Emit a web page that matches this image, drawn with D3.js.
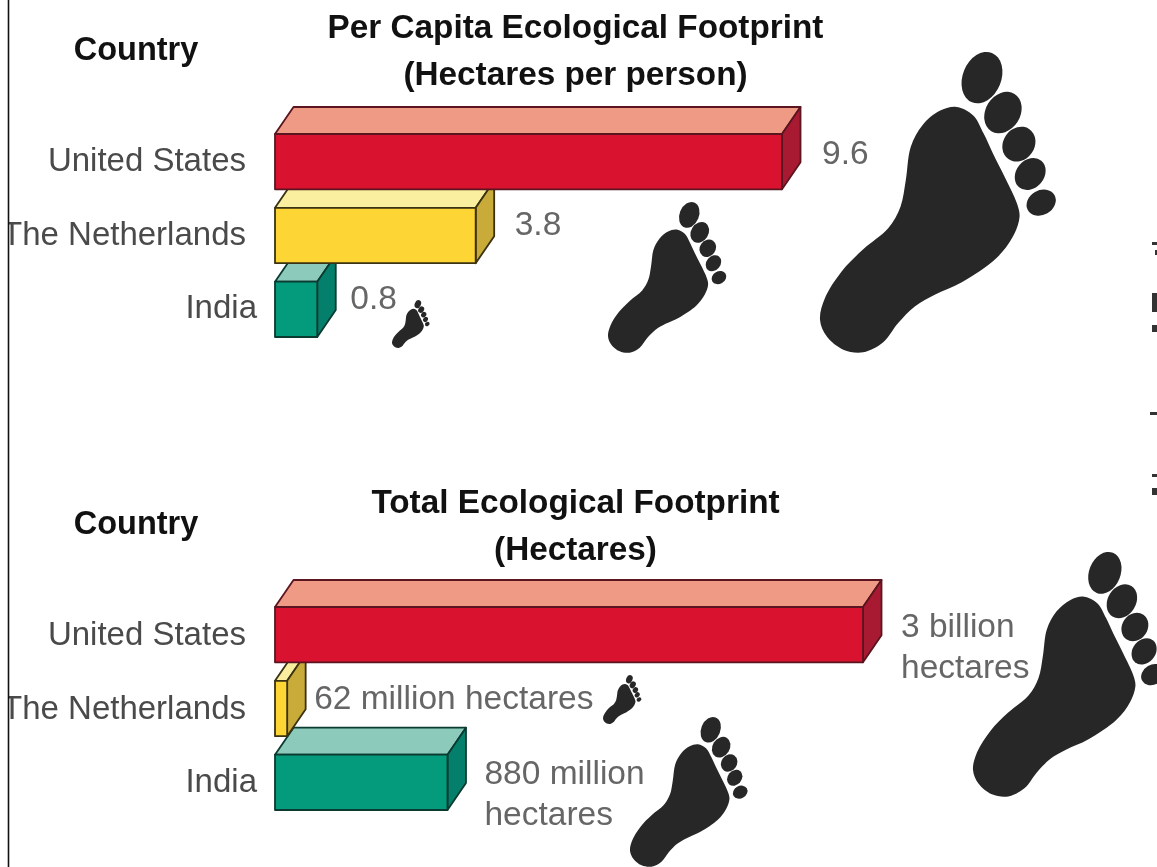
<!DOCTYPE html>
<html><head><meta charset="utf-8">
<script src="https://cdn.jsdelivr.net/npm/d3@7"></script>
<style>html,body{margin:0;padding:0;background:#fff;overflow:hidden}
svg{display:block;filter:blur(0.55px)}
text{font-family:"Liberation Sans",Arial,sans-serif}</style></head>
<body><script>
const countries = ["United States", "The Netherlands", "India"];
const perCapita = [9.6, 3.8, 0.8];
const totalMillions = [3000, 62, 880];
const perCapitaLabels = [["9.6"], ["3.8"], ["0.8"]];
const totalLabels = [["3 billion", "hectares"], ["62 million hectares"], ["880 million", "hectares"]];
const frontColors = ["#d9122f", "#fdd535", "#049a7c"];
const topColors = ["#ee9a84", "#f9ef9f", "#8ccbbc"];
const sideColors = ["#a81a32", "#c8ab38", "#047f6b"];
const edgeColors = ["#5a1520", "#3a3212", "#0b3a30"];

const W = 1157, H = 867;
const svg = d3.select("body").append("svg").attr("width", W).attr("height", H).attr("viewBox", [0, 0, W, H]);
svg.append("rect").attr("width", W).attr("height", H).attr("fill", "#fff");
svg.append("defs").append("clipPath").attr("id", "pageClip").append("rect")
  .attr("x", 9).attr("y", 0).attr("width", W - 9).attr("height", H);
const root = svg.append("g").attr("clip-path", "url(#pageClip)");

// Foot glyph outline, traced in its own unit space
const footSole = [[470,200],[520,225],[552,280],[580,340],[615,410],[652,490],[660,530],[640,590],[590,655],[485,728],[405,765],[345,800],[295,850],[250,908],[190,938],[130,930],[80,890],[60,840],[75,775],[125,695],[190,628],[265,565],[302,500],[318,420],[333,320],[368,255],[420,212]];
const footToes = [[547,112,58,80,22],[610,217,52,66,32],[658,312,47,55,35],[692,402,42,52,40],[725,488,46,37,-30]];
const soleLine = d3.line().curve(d3.curveCatmullRomClosed.alpha(0.5));
function foot(x, y, h) {
  const s = h / 905;
  const g = root.append("g").attr("transform", `translate(${x},${y}) scale(${s}) translate(-60,-35)`).attr("fill", "#272727");
  g.append("path").attr("d", soleLine(footSole));
  g.selectAll("ellipse").data(footToes).join("ellipse")
    .attr("transform", d => `translate(${d[0]},${d[1]}) rotate(${d[4]})`)
    .attr("rx", d => d[2]).attr("ry", d => d[3]);
}

function panel(cfg) {
  const x = d3.scaleLinear().domain([0, cfg.max]).range([275, cfg.xMax]);
  const y = d3.scaleBand().domain(countries).range(cfg.yRange).paddingInner(0.25);
  const dx = 18.5, dy = 27;
  const g = root.append("g");
  // later categories sit behind earlier ones
  const order = d3.range(countries.length).reverse();
  const bar = g.selectAll("g.bar").data(order).join("g").attr("class", "bar")
    .attr("stroke-width", 1.8).attr("stroke-linejoin", "round")
    .attr("stroke", i => edgeColors[i]);
  const pts = i => ({l: x(0), r: x(cfg.values[i]), t: y(countries[i]), b: y(countries[i]) + y.bandwidth()});
  bar.append("polygon").attr("fill", i => topColors[i]).attr("points", i => {
    const p = pts(i); return [[p.l,p.t],[p.l+dx,p.t-dy],[p.r+dx,p.t-dy],[p.r,p.t]].join(" ");
  });
  bar.append("polygon").attr("fill", i => sideColors[i]).attr("points", i => {
    const p = pts(i); return [[p.r,p.t],[p.r+dx,p.t-dy],[p.r+dx,p.b-dy],[p.r,p.b]].join(" ");
  });
  bar.append("rect").attr("fill", i => frontColors[i])
    .attr("x", i => pts(i).l).attr("y", i => pts(i).t)
    .attr("width", i => pts(i).r - pts(i).l).attr("height", y.bandwidth());

  // category labels
  g.selectAll("text.cat").data(countries).join("text").attr("class", "cat")
    .attr("text-anchor", "end").attr("font-size", 33).attr("fill", "#4a4a4a")
    .attr("x", d => d === "India" ? 257 : 246)
    .attr("y", d => y(d) + y.bandwidth() / 2 + cfg.catDy)
    .text(d => d);

  // value labels
  cfg.labels.forEach((lines, i) => {
    const lx = x(cfg.values[i]) + cfg.labelDx[i];
    lines.forEach((t, j) => {
      g.append("text").attr("x", lx).attr("y", cfg.labelY[i] + j * cfg.lineH)
        .attr("font-size", 33.5).attr("fill", "#666").text(t);
    });
  });

  // headers
  g.append("text").attr("x", 136).attr("y", cfg.countryY).attr("text-anchor", "middle")
    .attr("font-size", 32.5).attr("font-weight", 700).attr("fill", "#111").text("Country");
  cfg.title.forEach((t, j) => {
    g.append("text").attr("x", cfg.titleX).attr("y", cfg.titleY + j * 47).attr("text-anchor", "middle")
      .attr("font-size", 33.3).attr("font-weight", 700).attr("fill", "#111").text(t);
  });
}

panel({
  values: perCapita, max: 9.6, xMax: 782, yRange: [134, 337],
  labels: perCapitaLabels, labelDx: [40, 39, 33], labelY: [164, 235, 309], lineH: 41,
  catDy: 9, countryY: 60, titleX: 575.5, titleY: 38,
  title: ["Per Capita Ecological Footprint", "(Hectares per person)"]
});
panel({
  values: totalMillions, max: 3000, xMax: 863, yRange: [607, 810],
  labels: totalLabels, labelDx: [38, 27, 37], labelY: [637, 709, 784], lineH: 41,
  catDy: 10, countryY: 534, titleX: 575.5, titleY: 513,
  title: ["Total Ecological Footprint", "(Hectares)"]
});

foot(820, 52, 301);
foot(608, 202, 151);
foot(392, 300, 48);
foot(973, 552, 245);
foot(603, 675, 49);
foot(630, 717, 150);

// frame line at the left edge
svg.append("line").attr("x1", 8.5).attr("x2", 8.5).attr("y1", 0).attr("y2", H)
  .attr("stroke", "#111").attr("stroke-width", 1.6);

// fragments of cropped vertical text at the right edge
const rightFragments = [[1152,242,5,3],[1155,250,2,5],[1152,293,5,19],[1152,325,5,7],[1150,412,7,3],[1152,474,5,3],[1152,488,5,7]];
svg.selectAll("rect.frag").data(rightFragments).join("rect").attr("class", "frag")
  .attr("x", d => d[0]).attr("y", d => d[1]).attr("width", d => d[2]).attr("height", d => d[3]).attr("fill", "#333");
</script></body></html>
